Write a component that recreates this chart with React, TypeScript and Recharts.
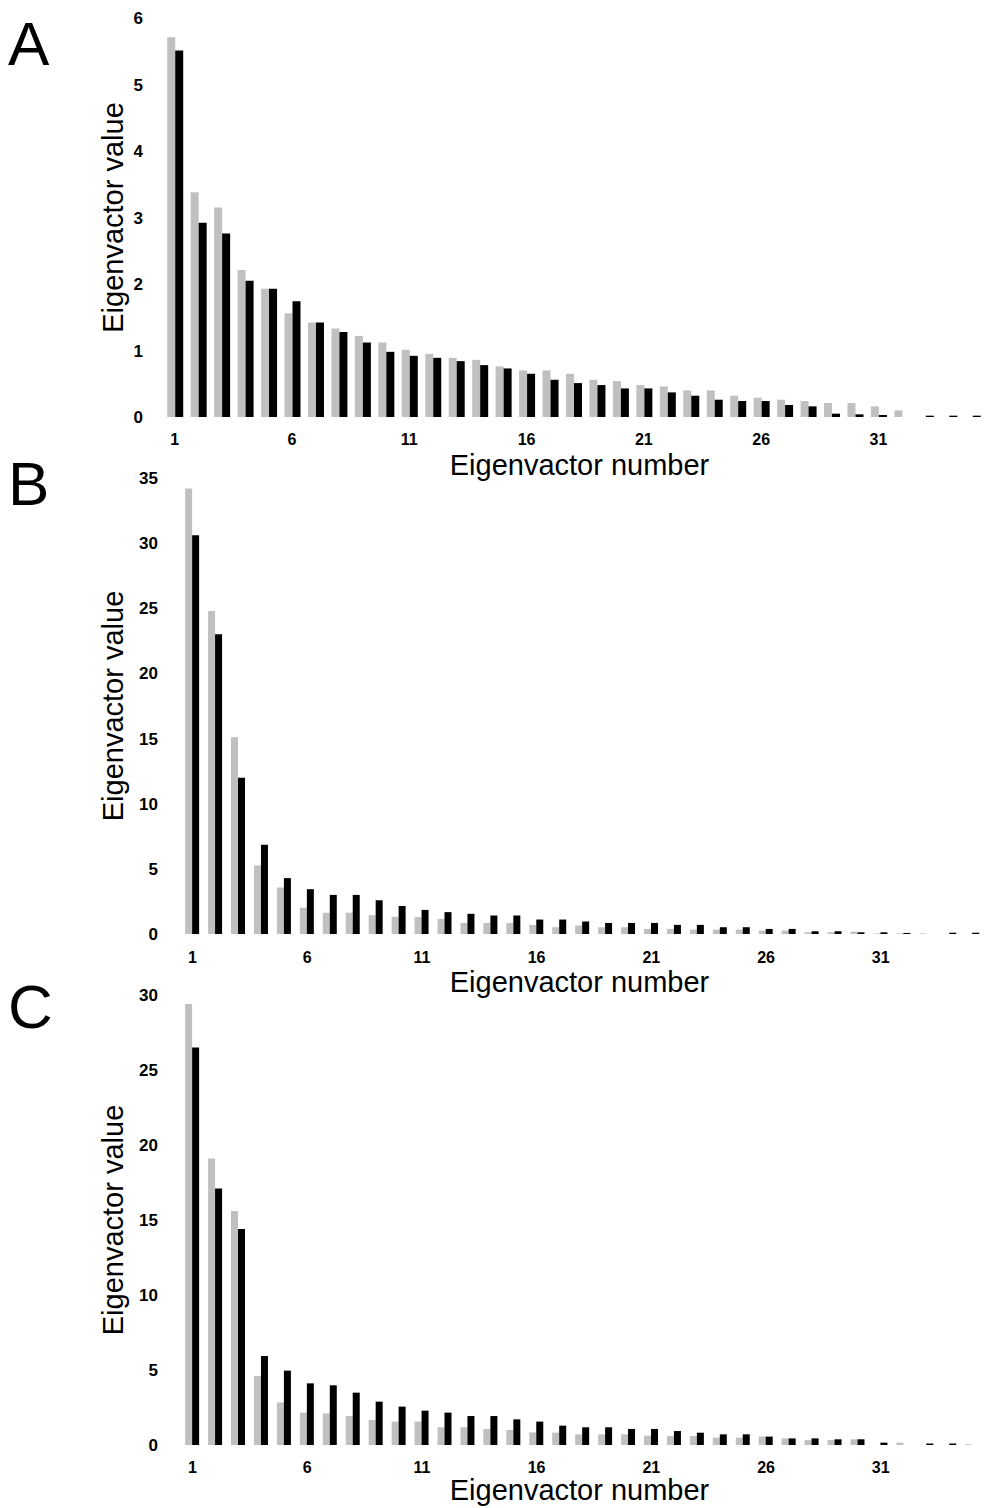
import { BarChart, Bar, XAxis, YAxis } from "recharts";

// eigenvector index 1..35
const eigenNumbers = [
  1, 2, 3, 4, 5, 6, 7, 8, 9, 10, 11, 12, 13, 14, 15, 16, 17, 18, 19, 20, 21,
  22, 23, 24, 25, 26, 27, 28, 29, 30, 31, 32, 33, 34, 35,
];

// panel A
const aGray = [
  5.71, 3.38, 3.15, 2.21, 1.93, 1.56, 1.42, 1.33, 1.22, 1.12, 1.01, 0.95, 0.89,
  0.86, 0.76, 0.7, 0.7, 0.65, 0.56, 0.54, 0.48, 0.46, 0.4, 0.4, 0.32, 0.29,
  0.26, 0.24, 0.21, 0.21, 0.16, 0.1, 0, 0, 0,
];
const aBlack = [
  5.51, 2.92, 2.76, 2.05, 1.93, 1.74, 1.42, 1.28, 1.12, 0.98, 0.92, 0.89, 0.84,
  0.78, 0.73, 0.65, 0.56, 0.51, 0.48, 0.43, 0.43, 0.37, 0.32, 0.26, 0.24, 0.24,
  0.18, 0.16, 0.05, 0.04, 0.03, 0, 0.02, 0.02, 0.02,
];

// panel B
const bGray = [
  34.2, 24.8, 15.1, 5.25, 3.57, 2.02, 1.63, 1.63, 1.45, 1.32, 1.3, 1.16, 0.85,
  0.85, 0.85, 0.7, 0.52, 0.65, 0.52, 0.52, 0.39, 0.39, 0.34, 0.34, 0.34, 0.26,
  0.26, 0.13, 0.13, 0.18, 0.05, 0.05, 0.05, 0, 0,
];
const bBlack = [
  30.6, 23.0, 12.0, 6.85, 4.29, 3.44, 3.0, 3.0, 2.59, 2.15, 1.85, 1.68, 1.55,
  1.42, 1.42, 1.11, 1.11, 0.96, 0.85, 0.85, 0.85, 0.7, 0.7, 0.52, 0.52, 0.39,
  0.39, 0.21, 0.21, 0.13, 0.13, 0.08, 0, 0.1, 0.1,
];

// panel C
const cGray = [
  29.4, 19.1, 15.6, 4.6, 2.84, 2.16, 2.11, 1.93, 1.67, 1.56, 1.56, 1.18, 1.18,
  1.07, 1.0, 0.84, 0.82, 0.71, 0.71, 0.71, 0.62, 0.6, 0.6, 0.49, 0.49, 0.56,
  0.44, 0.33, 0.33, 0.38, 0, 0.16, 0, 0, 0.05,
];
const cBlack = [
  26.5, 17.1, 14.4, 5.93, 4.96, 4.11, 3.98, 3.49, 2.89, 2.56, 2.29, 2.16, 1.93,
  1.93, 1.71, 1.56, 1.29, 1.18, 1.18, 1.07, 1.07, 0.93, 0.82, 0.71, 0.71, 0.56,
  0.44, 0.44, 0.38, 0.38, 0.16, 0, 0.1, 0.1, 0,
];

const aTicks = [0, 1, 2, 3, 4, 5, 6];
const bTicks = [0, 5, 10, 15, 20, 25, 30, 35];
const cTicks = [0, 5, 10, 15, 20, 25, 30];

const FONT = '"Liberation Sans", Arial, sans-serif';

function buildRows(gray: number[], black: number[]) {
  return eigenNumbers.map((n, i) => ({ n, gray: gray[i], black: black[i] }));
}

function Panel({
  top,
  height,
  marginTop,
  axisWidth,
  xAxisHeight,
  xTickMargin,
  xTitleDx,
  xTitleDy,
  yTitleDx,
  max,
  ticks,
  gray,
  black,
}: any) {
  const rows = buildRows(gray, black);
  return (
    <div style={{ position: "absolute", left: 0, top }}>
      <BarChart
        width={985}
        height={height}
        data={rows}
        margin={{ top: marginTop, right: 1, left: 0, bottom: 0 }}
        barCategoryGap="18%"
        barGap={0}
      >
        <XAxis
          dataKey="n"
          interval={4}
          tickLine={false}
          axisLine={false}
          tickSize={0}
          tickMargin={xTickMargin}
          height={xAxisHeight}
          tick={{ fill: "#000", fontSize: 16, fontWeight: "bold", fontFamily: FONT }}
          label={{
            value: "Eigenvactor number",
            position: "center",
            dx: xTitleDx,
            dy: xTitleDy,
            fill: "#000",
            fontSize: 29,
            fontFamily: FONT,
          }}
        />
        <YAxis
          type="number"
          domain={[0, max]}
          ticks={ticks}
          width={axisWidth}
          tickLine={false}
          axisLine={false}
          tickSize={0}
          tickMargin={axisWidth === 163 ? 20 : 23}
          tick={{ fill: "#000", fontSize: 17, fontWeight: "bold", fontFamily: FONT }}
          label={{
            value: "Eigenvactor value",
            angle: -90,
            position: "center",
            dx: yTitleDx,
            fill: "#000",
            fontSize: 29,
            fontFamily: FONT,
          }}
        />
        <Bar dataKey="gray" fill="#c0c0c0" isAnimationActive={false} />
        <Bar dataKey="black" fill="#000000" isAnimationActive={false} />
      </BarChart>
    </div>
  );
}

const letterStyle = {
  position: "absolute" as const,
  left: 8,
  fontFamily: FONT,
  fontSize: 62,
  lineHeight: "62px",
  color: "#000",
};

export default function App() {
  return (
    <div
      style={{
        position: "absolute",
        left: 0,
        top: 0,
        width: 985,
        height: 1508,
        overflow: "hidden",
        background: "#fff",
      }}
    >
      <Panel
        top={0}
        height={507}
        marginTop={18}
        axisWidth={163}
        xAxisHeight={90}
        xTickMargin={17}
        xTitleDx={6}
        xTitleDy={3}
        yTitleDx={31}
        max={6}
        ticks={aTicks}
        gray={aGray}
        black={aBlack}
      />
      <Panel
        top={468}
        height={556}
        marginTop={10}
        axisWidth={181}
        xAxisHeight={90}
        xTickMargin={18}
        xTitleDx={-3}
        xTitleDy={3}
        yTitleDx={22}
        max={35}
        ticks={bTicks}
        gray={bGray}
        black={bBlack}
      />
      <Panel
        top={985}
        height={523}
        marginTop={10}
        axisWidth={181}
        xAxisHeight={63}
        xTickMargin={17}
        xTitleDx={-3}
        xTitleDy={13}
        yTitleDx={22}
        max={30}
        ticks={cTicks}
        gray={cGray}
        black={cBlack}
      />
      <div style={{ ...letterStyle, top: 13 }}>A</div>
      <div style={{ ...letterStyle, top: 453 }}>B</div>
      <div style={{ ...letterStyle, top: 976 }}>C</div>
    </div>
  );
}
